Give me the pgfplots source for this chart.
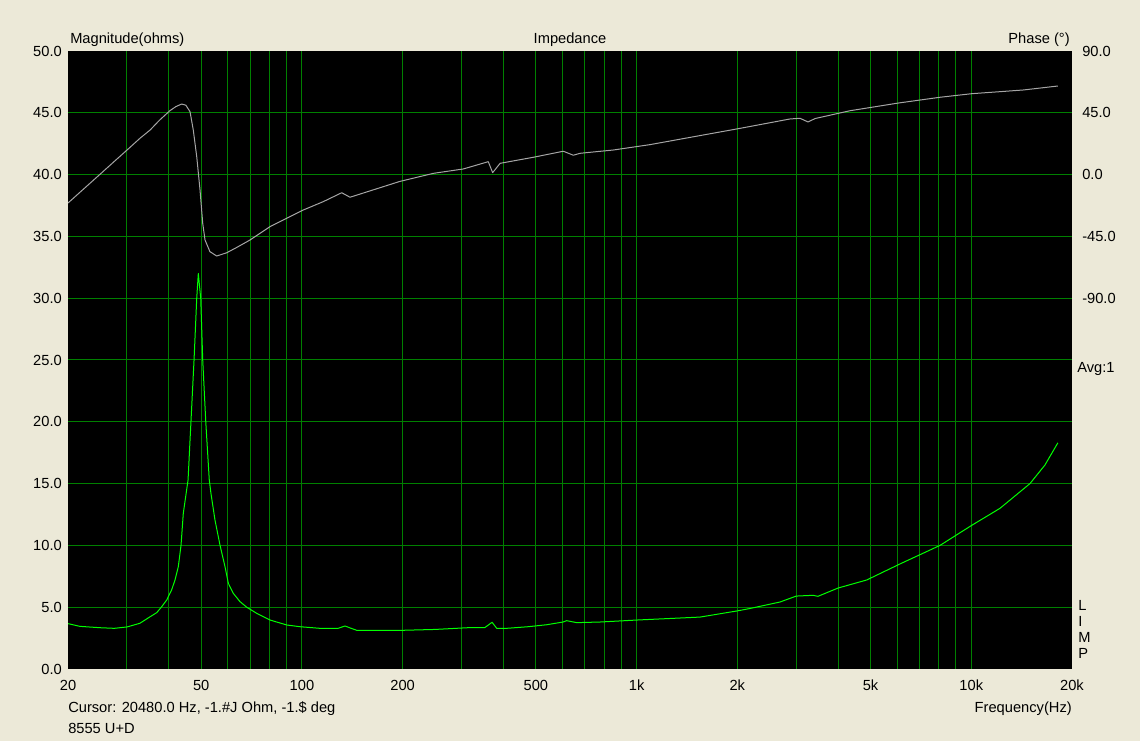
\documentclass[border=0pt]{standalone}
\usepackage{pgfplots}
\pgfplotsset{compat=1.18}
\usepackage{pgfplotstable}
\usepackage{fontspec}
\setmainfont{Liberation Sans}
\definecolor{bgc}{RGB}{236,233,216}
\definecolor{gridg}{RGB}{0,128,0}
\definecolor{magg}{RGB}{0,255,0}
\definecolor{phg}{RGB}{165,165,165}

\pgfplotstableread{
f z
20 3.67
21.7 3.45
24.9 3.34
27.5 3.29
30.0 3.40
32.8 3.70
35.2 4.23
36.83 4.56
38.11 5.04
39.44 5.58
40.8 6.4
41.76 7.2
42.72 8.28
43.52 10.0
44.21 12.6
45.68 15.3
46.6 20.0
47.6 25.0
48.49 30.0
49.02 32.0
49.84 30.0
50.53 25.0
51.6 20.0
52.86 15.3
53.48 14.2
54.97 12.06
56.93 10.0
58.9 8.28
60.28 6.93
62.37 6.12
65.3 5.45
68.4 5.0
73.3 4.5
80.3 3.96
90.1 3.56
98.7 3.42
113.2 3.29
128 3.28
134.5 3.48
140 3.30
145.8 3.13
200 3.13
250 3.20
313.4 3.34
352 3.35
370 3.78
382 3.29
409 3.29
473.8 3.42
538.7 3.58
602.8 3.80
618.3 3.91
662.3 3.75
777.5 3.80
1000 3.96
1547 4.2
2000 4.7
2186 4.9
2683 5.42
3000 5.9
3366 5.96
3483 5.88
4000 6.55
4869 7.2
6125 8.5
8065 10.0
10000 11.6
12185 13.0
14977 15.0
16600 16.5
18150 18.3
}\magtable

\pgfplotstableread{
f p
20 -20.7
22.5 -9.5
25 0.5
28 11.3
30.5 19.4
32.8 26.4
35.2 32.5
37.5 39.5
40.3 46.5
42 49.5
43.73 51.4
45 50.5
46.3 45.8
47.35 32.5
48.49 13
49.6 -11.2
50.53 -35.5
51.33 -47.6
53.1 -56.1
55.63 -59.3
59.62 -56.9
63.9 -53
70 -47.6
80.3 -37.9
90.1 -31.8
100.9 -25.8
115.8 -19.7
131.5 -13.2
139.2 -16.5
196 -5
247 0.9
303.6 4.1
360.4 9.4
371.5 1.4
391 8.2
491.4 12.6
604 17
647 14.1
677.6 15.5
852 17.9
1096 21.8
1547 28.4
2000 33.3
2874 40.5
3078 41
3253 38.3
3414 40.8
4342 46.5
5039 49
6054 52.1
8065 56.3
10030 58.9
14303 61.6
18150 64.5
}\phasetable

\begin{document}
\begin{tikzpicture}[font=\fontsize{11}{12}\selectfont]
\path[use as bounding box, fill=bgc] (-51pt,-54pt) rectangle (804pt,501.75pt);
\begin{axis}[
  name=main,
  at={(0,0)}, anchor=south west,
  scale only axis, width=753pt, height=463.5pt,
  xmode=log, xmin=20, xmax=20000, ymin=0, ymax=50,
  axis background/.style={fill=black},
  axis line style={draw=none},
  xtick={20,50,100,200,500,1000,2000,5000,10000,20000},
  xticklabels={20,50,100,200,500,1k,2k,5k,10k,20k},
  minor xtick={30,40,50,60,70,80,90,100,200,300,400,500,600,700,800,900,1000,2000,3000,4000,5000,6000,7000,8000,9000,10000},
  xminorgrids=true, xmajorgrids=false,
  ytick={5,10,15,20,25,30,35,40,45}, ymajorgrids=true,
  extra y ticks={0,50}, extra y tick style={grid=none},
  grid style={gridg, line width=0.75pt},
  minor grid style={gridg, line width=0.75pt},
  major tick length=0pt, minor tick length=0pt,
  tick style={draw=none},
  yticklabel style={anchor=east, inner sep=0pt, xshift=-4.5pt,
    /pgf/number format/fixed, /pgf/number format/fixed zerofill,
    /pgf/number format/precision=1, /pgf/number format/assume math mode=true},
  xticklabel style={anchor=north, inner sep=0pt, yshift=-8.25pt},
]
\addplot[magg, line width=0.75pt, line join=round] table[x=f, y=z] {\magtable};
\end{axis}
\begin{axis}[
  at={(0,0)}, anchor=south west,
  scale only axis, width=753pt, height=463.5pt,
  xmode=log, xmin=20, xmax=20000, ymin=-360, ymax=90,
  hide x axis,
  axis y line*=right,
  axis line style={draw=none},
  ytick={-90,-45,0,45,90},
  major tick length=0pt, minor tick length=0pt,
  tick style={draw=none},
  yticklabel style={anchor=west, inner sep=0pt, xshift=7.5pt,
    /pgf/number format/fixed, /pgf/number format/fixed zerofill,
    /pgf/number format/precision=1, /pgf/number format/assume math mode=true},
]
\addplot[phg, line width=0.75pt, line join=round] table[x=f, y=p] {\phasetable};
\end{axis}
\node[anchor=base west, inner sep=0pt, xshift=1.5pt, yshift=5.25pt] at (main.north west) {Magnitude(ohms)};
\node[anchor=base, inner sep=0pt, yshift=5.25pt] at (main.north) {Impedance};
\node[anchor=base east, inner sep=0pt, xshift=-1.5pt, yshift=5.25pt] at (main.north east) {Phase (°)};
\node[anchor=base east, inner sep=0pt, yshift=-32.8pt] at (main.south east) {Frequency(Hz)};
\node[anchor=base west, inner sep=0pt, yshift=-32.8pt] at (main.south west) {Cursor: 20480.0 Hz, -1.\#J Ohm, -1.\$ deg};
\node[anchor=base west, inner sep=0pt, yshift=-48.75pt] at (main.south west) {8555 U+D};
\node[anchor=west, inner sep=0pt, xshift=3.75pt, yshift=-6.75pt] at (main.east) {Avg:1};
\node[anchor=north west, inner sep=0pt, align=left, xshift=4.5pt, yshift=51.75pt] at (main.south east) {L\\I\\M\\P};
\end{tikzpicture}
\end{document}
